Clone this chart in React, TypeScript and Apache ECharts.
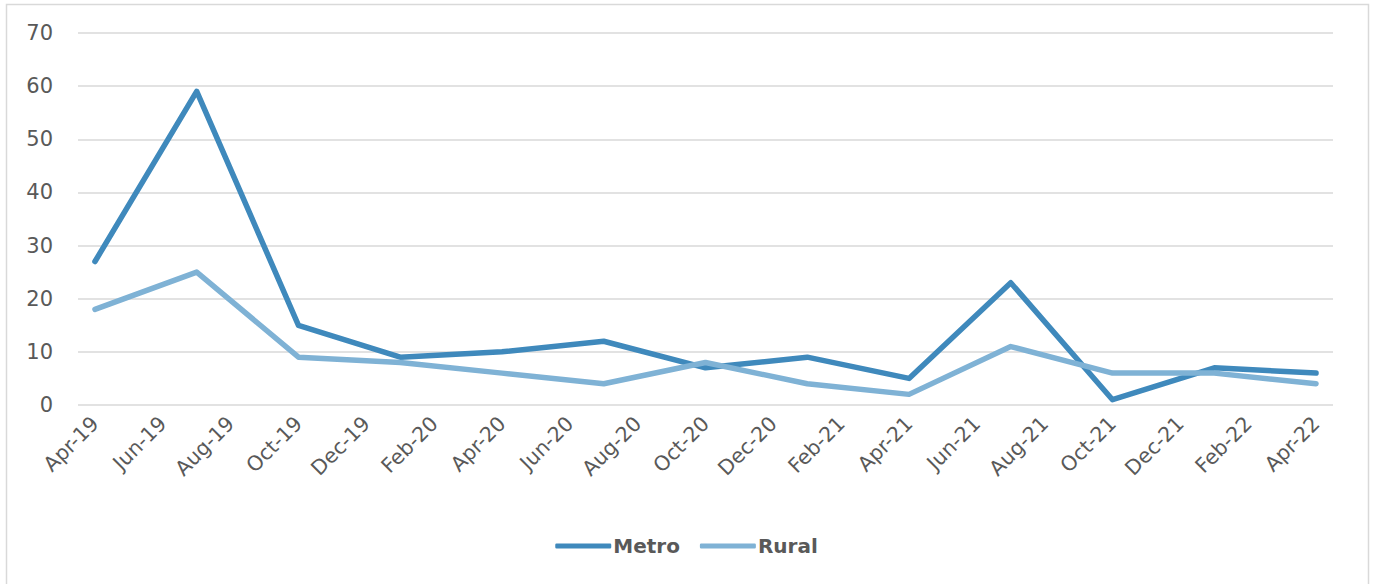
import React, { useEffect, useRef } from "react";
import * as echarts from "echarts";

const months = [
  "Apr-19","May-19","Jun-19","Jul-19","Aug-19","Sep-19","Oct-19","Nov-19","Dec-19",
  "Jan-20","Feb-20","Mar-20","Apr-20","May-20","Jun-20","Jul-20","Aug-20","Sep-20","Oct-20","Nov-20","Dec-20",
  "Jan-21","Feb-21","Mar-21","Apr-21","May-21","Jun-21","Jul-21","Aug-21","Sep-21","Oct-21","Nov-21","Dec-21",
  "Jan-22","Feb-22","Mar-22","Apr-22",
];

const quarters = [
  "Apr-19","Jul-19","Oct-19","Jan-20","Apr-20","Jul-20","Oct-20",
  "Jan-21","Apr-21","Jul-21","Oct-21","Jan-22","Apr-22",
];

const metro = [27, 59, 15, 9, 10, 12, 7, 9, 5, 23, 1, 7, 6];
const rural = [18, 25, 9, 8, 6, 4, 8, 4, 2, 11, 6, 6, 4];

const yTicks = { min: 0, max: 70, interval: 10 };

export default function App() {
  const ref = useRef<HTMLDivElement>(null);
  useEffect(() => {
    if (!ref.current) return;
    const chart = echarts.init(ref.current, undefined, { renderer: "svg" });
    const font = "'DejaVu Sans', sans-serif";
    chart.setOption({
      animation: false,
      textStyle: { fontFamily: font },
      graphic: [
        {
          type: "rect",
          shape: { x: 6.5, y: 4.5, width: 1362, height: 620 },
          style: { fill: "#fff", stroke: "#d9d9d9", lineWidth: 1.5 },
          z: -10,
        },
      ],
      grid: { left: 78, right: 40, top: 33, bottom: 179, containLabel: false },
      legend: {
        top: 531,
        left: "center",
        itemWidth: 56,
        itemHeight: 5,
        itemGap: 20,
        icon: "roundRect",
        data: ["Metro", "Rural"],
        textStyle: { fontFamily: font, fontSize: 20, fontWeight: "bold", color: "#595959", padding: [0, 0, 0, -3] },
      },
      xAxis: {
        type: "category",
        data: months,
        boundaryGap: true,
        axisTick: { show: false },
        axisLine: { show: false },
        axisLabel: {
          interval: 1,
          rotate: 45,
          fontSize: 20.5,
          color: "#595959",
          fontFamily: font,
          margin: 15,
        },
      },
      yAxis: {
        type: "value",
        min: yTicks.min,
        max: yTicks.max,
        interval: yTicks.interval,
        axisLine: { show: false },
        axisTick: { show: false },
        axisLabel: { fontSize: 21, color: "#595959", fontFamily: font, margin: 25 },
        splitLine: { lineStyle: { color: "#d9d9d9", width: 1.5 } },
      },
      series: [
        {
          name: "Metro",
          type: "line",
          data: quarters.map((q, i) => [q, metro[i]]),
          symbol: "none",
          lineStyle: { width: 5.5, color: "#3f89bc", cap: "round", join: "round" },
          itemStyle: { color: "#3f89bc" },
        },
        {
          name: "Rural",
          type: "line",
          data: quarters.map((q, i) => [q, rural[i]]),
          symbol: "none",
          lineStyle: { width: 5.5, color: "#7fb2d5", cap: "round", join: "round" },
          itemStyle: { color: "#7fb2d5" },
        },
      ],
    });
    return () => chart.dispose();
  }, []);
  return (
    <div
      ref={ref}
      style={{ position: "fixed", left: 0, top: 0, width: 1373, height: 584, background: "#fff" }}
    />
  );
}
